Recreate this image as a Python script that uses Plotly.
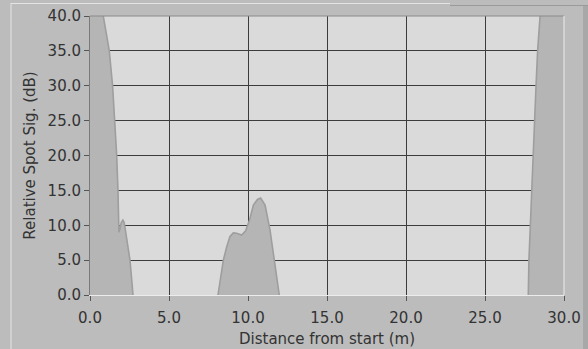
import plotly.graph_objects as go

# Data (distance in m, relative signal in dB)
left_x = [0.0, 0.5, 0.84, 1.03, 1.22, 1.43, 1.58, 1.69, 1.77, 1.79, 1.80, 1.83, 1.90, 1.98, 2.08, 2.16, 2.24, 2.32, 2.43, 2.53, 2.64, 2.72]
left_y = [60.0, 48.0, 40.0, 37.5, 35.0, 30.0, 25.0, 20.0, 15.0, 12.5, 10.5, 9.0, 9.5, 10.4, 10.75, 10.4, 9.3, 7.9, 6.4, 5.0, 2.2, 0.0]

mid_x = [8.10, 8.23, 8.44, 8.65, 8.86, 9.07, 9.28, 9.60, 9.85, 10.02, 10.10, 10.34, 10.60, 10.80, 11.08, 11.39, 11.60, 11.80, 11.98]
mid_y = [0.0, 2.15, 5.0, 6.9, 8.4, 8.9, 8.85, 8.6, 9.2, 10.3, 10.75, 12.9, 13.7, 13.9, 12.9, 9.36, 6.0, 2.6, 0.0]

right_x = [27.74, 27.78, 27.87, 27.96, 28.02, 28.10, 28.23, 28.33, 28.48, 28.80, 29.40, 30.0]
right_y = [0.0, 5.0, 10.0, 15.0, 20.0, 25.0, 30.0, 35.0, 40.0, 50.0, 60.0, 65.0]

x_ticks = [0, 5, 10, 15, 20, 25, 30]
y_ticks = [0, 5, 10, 15, 20, 25, 30, 35, 40]

FILL = "#b5b5b5"
EDGE = "#9e9e9e"
OUTER = "#bcbcbc"
PLOTBG = "#dadada"
GRID = "#3c3c3c"
TEXT = "#333333"
FONT = "DejaVu Sans"

fig = go.Figure()
for xs, ys in [(left_x, left_y), (mid_x, mid_y), (right_x, right_y)]:
    fig.add_trace(go.Scatter(x=xs, y=ys, mode="lines", fill="tozeroy",
                             fillcolor=FILL, line=dict(color=EDGE, width=1.6),
                             hoverinfo="skip", showlegend=False))

fig.update_layout(
    width=588, height=349,
    margin=dict(l=90, r=24, t=16, b=54, autoexpand=False),
    paper_bgcolor=OUTER, plot_bgcolor=PLOTBG,
    font=dict(family=FONT, size=15, color=TEXT),
    showlegend=False,
)
fig.update_xaxes(
    range=[0, 30], tickvals=x_ticks, tickformat=".1f",
    showgrid=True, gridcolor=GRID, gridwidth=1,
    ticks="outside", ticklen=5, tickcolor="#555555",
    ticklabelstandoff=4, automargin=False,
    showline=True, linecolor="#ececec", linewidth=1,
    zeroline=False,
    title=dict(text="Distance from start (m)", standoff=7, font=dict(size=15)),
    fixedrange=True,
)
fig.update_yaxes(
    range=[0, 40], tickvals=y_ticks, tickformat=".1f",
    showgrid=True, gridcolor=GRID, gridwidth=1,
    ticks="outside", ticklen=5, tickcolor="#555555",
    automargin=False,
    showline=True, linecolor="#7a7a7a", linewidth=1,
    zeroline=False,
    title=dict(text="Relative Spot Sig. (dB)", standoff=8, font=dict(size=15)),
    fixedrange=True,
)

# plot-area frame (top dark, right light) and outer panel edges
def px_x(p):
    return (p - 90) / 474.0

def px_y(p):
    return (295 - p) / 279.0

fig.add_shape(type="line", xref="paper", yref="paper", x0=0, x1=1, y0=1, y1=1,
              line=dict(color="#8a8a8a", width=1))
fig.add_shape(type="line", xref="paper", yref="paper", x0=1, x1=1, y0=0, y1=1,
              line=dict(color="#ececec", width=1))
fig.add_shape(type="line", xref="paper", yref="paper", x0=px_x(11), x1=px_x(11),
              y0=px_y(3), y1=px_y(349), line=dict(color="#e4e4e4", width=1))
fig.add_shape(type="line", xref="paper", yref="paper", x0=px_x(11), x1=px_x(450),
              y0=px_y(3.5), y1=px_y(3.5), line=dict(color="#e4e4e4", width=1))
fig.add_shape(type="line", xref="paper", yref="paper", x0=px_x(450), x1=px_x(588),
              y0=px_y(5.5), y1=px_y(5.5), line=dict(color="#9a9a9a", width=1))
fig.add_shape(type="rect", xref="paper", yref="paper", x0=px_x(583), x1=px_x(590),
              y0=px_y(6), y1=px_y(350), line=dict(width=0), fillcolor="#a8a8a8")

fig.write_html("out.html")
